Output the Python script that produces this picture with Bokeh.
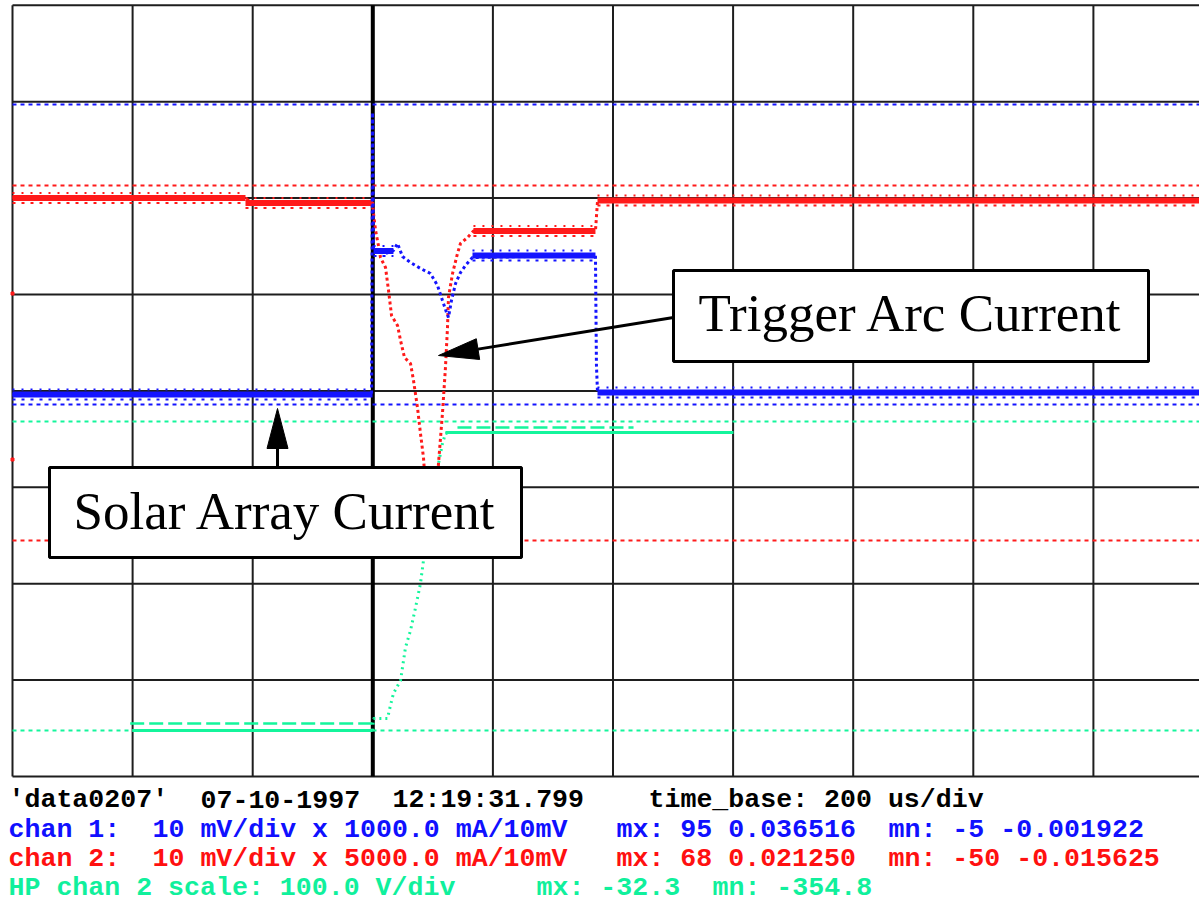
import math
from bokeh.plotting import figure
from bokeh.models import Range1d, ColumnDataSource
from bokeh.embed import file_html
from bokeh.resources import INLINE
from bokeh.core.properties import value

# ---------------- data: x in time divisions (200 us/div), y in screen divisions ----------------
grid_x = [0, 1, 2, 3, 4, 5, 6, 7, 8, 9, 10]
grid_y = [0, 1, 2, 3, 4, 5, 6, 7, 8]
trigger_x = [3]

# mx / mn reference markers (dotted)
blue_marks = [6.971, 3.859]
red_marks = [6.131, 2.448]
green_marks = [3.683, 0.477]

# chan 1 (blue): solar array current
blue_x = [0.0, 2.99, 2.998, 3.006, 3.023, 3.106, 3.172, 3.206, 3.247, 3.314, 3.397, 3.480, 3.539,
          3.580, 3.614, 3.630, 3.655, 3.689, 3.730, 3.772, 3.830, 4.854, 4.862, 4.871, 10.0]
blue_y = [3.963, 3.963, 6.888, 5.456, 5.456, 5.425, 5.456, 5.529, 5.394, 5.332, 5.270, 5.218, 5.093,
          4.938, 4.813, 4.761, 4.938, 5.114, 5.228, 5.301, 5.384, 5.405, 4.274, 3.983, 3.983]
blue_band_x0 = [0.0, 3.006, 3.830, 4.871]
blue_band_x1 = [2.998, 3.172, 4.854, 10.0]
blue_band_y = [3.963, 5.450, 5.405, 3.983]

# chan 2 (red): trigger arc current
red_x = [0.0, 1.94, 1.982, 2.998, 3.006, 3.023, 3.047, 3.064, 3.106, 3.131,
         3.156, 3.206, 3.231, 3.264, 3.314, 3.339, 3.372, 3.397, 3.422, 3.447,
         3.472, 3.505, 3.530, 3.547, 3.580, 3.605, 3.622, 3.630, 3.664, 3.705,
         3.730, 3.789, 3.838, 4.854, 4.871, 10.0]
red_y = [6.006, 5.996, 5.965, 5.955, 5.840, 5.664, 5.508, 5.384, 5.280, 5.041,
         4.782, 4.678, 4.523, 4.346, 4.284, 4.108, 3.828, 3.558, 3.309, 2.863,
         2.448, 2.448, 2.863, 3.247, 3.766, 4.243, 4.658, 4.969, 5.218, 5.425,
         5.529, 5.591, 5.658, 5.658, 5.965, 5.965]
red_band_x0 = [0.0, 1.94, 3.838, 4.871]
red_band_x1 = [1.94, 2.998, 4.854, 10.0]
red_band_y = [6.000, 5.950, 5.658, 5.975]
red_edge_x = [0.0, 0.0]
red_edge_y = [5.010, 3.288]

# HP chan 2 (green): voltage
green_x = [0.999, 2.998, 3.006, 3.122, 3.147, 3.172, 3.231, 3.272, 3.314, 3.356,
           3.397, 3.422, 3.455, 3.497, 3.530, 3.547, 3.580, 3.605, 3.647, 6.003]
green_y = [0.477, 0.477, 0.602, 0.602, 0.737, 0.861, 0.996, 1.338, 1.515, 1.753,
           2.002, 2.241, 2.552, 2.863, 3.174, 3.247, 3.454, 3.558, 3.568, 3.568]
green_band_x0 = [0.999, 3.605]
green_band_x1 = [2.998, 6.003]
green_band_y = [0.477, 3.568]
green_upper_x0 = [0.98, 3.705]
green_upper_x1 = [2.998, 5.171]

# footer text (column, string) on the 16-px character grid
info_lines = [
    ("#000000", [(0, "'data0207'"), (12, "07-10-1997"), (24, "12:19:31.799"), (40, "time_base: 200 us/div")]),
    ("#1010ff", [(0, "chan 1:"), (9, "10 mV/div x 1000.0 mA/10mV"), (38, "mx: 95 0.036516"), (55, "mn: -5 -0.001922")]),
    ("#ff1010", [(0, "chan 2:"), (9, "10 mV/div x 5000.0 mA/10mV"), (38, "mx: 68 0.021250"), (55, "mn: -50 -0.015625")]),
    ("#10f09c", [(0, "HP chan 2 scale: 100.0 V/div"), (33, "mx: -32.3"), (44, "mn: -354.8")]),
]

# ---------------- layout constants ----------------
W, H = 1199, 900
SX = 120.1     # px per time division
SY = 96.4      # px per vertical division

def px2x(px):
    return (px - 12) / SX

def py2y(py):
    return (776 - py) / SY

BLUE = "#1414ff"
RED = "#ff1a1a"
GREEN = "#14f59c"
GRID = "#1e1e1e"

p = figure(width=W, height=H, x_range=Range1d(px2x(0), px2x(W)),
           y_range=Range1d(py2y(H), py2y(0)),
           output_backend="svg", toolbar_location=None, min_border=0,
           x_axis_type=None, y_axis_type=None)
p.outline_line_color = None
p.background_fill_color = "white"
p.border_fill_color = "white"
p.xgrid.visible = False
p.ygrid.visible = False

# graticule
p.segment(x0=grid_x, y0=[0] * len(grid_x), x1=grid_x, y1=[8] * len(grid_x),
          line_color=GRID, line_width=2)
p.segment(x0=[0] * len(grid_y), y0=grid_y, x1=[10] * len(grid_y), y1=grid_y,
          line_color=GRID, line_width=2)
p.segment(x0=trigger_x, y0=[0], x1=trigger_x, y1=[8], line_color="black", line_width=4)

# mx / mn markers
for ys, c in ((blue_marks, BLUE), (red_marks, RED), (green_marks, GREEN)):
    p.segment(x0=[0] * len(ys), y0=ys, x1=[10] * len(ys), y1=ys,
              line_color=c, line_width=2, line_dash="4 4")

FR = 5 / SY   # fringe offset of the noisy bands

def band(x0, x1, y, color, width=6):
    p.segment(x0=x0, y0=y, x1=x1, y1=y, line_color=color, line_width=width)
    p.segment(x0=x0, y0=[v + FR for v in y], x1=x1, y1=[v + FR for v in y],
              line_color=color, line_width=2, line_dash="2 7")
    p.segment(x0=x0, y0=[v - FR for v in y], x1=x1, y1=[v - FR for v in y],
              line_color=color, line_width=2, line_dash="3 6")

# green
p.line(green_x, green_y, line_color=GREEN, line_width=3, line_dash="2 4")
p.segment(x0=green_band_x0, y0=green_band_y, x1=green_band_x1, y1=green_band_y,
          line_color=GREEN, line_width=3)
up = [green_band_y[0] + 7 / SY, green_band_y[1] + 5 / SY]
p.segment(x0=green_upper_x0, y0=up, x1=green_upper_x1, y1=up,
          line_color=GREEN, line_width=2.5, line_dash="14 5")

# red
p.line(red_x, red_y, line_color=RED, line_width=3, line_dash="3 3")
band(red_band_x0, red_band_x1, red_band_y, RED)
p.scatter(red_edge_x, red_edge_y, marker="square", size=3, color=RED)

# blue
p.line(blue_x, blue_y, line_color=BLUE, line_width=3, line_dash="3 3")
band(blue_band_x0, blue_band_x1, blue_band_y, BLUE)

# ---------------- annotations ----------------
def arrow(tail, tip, head_len=40, head_w=21):
    (xs, ys), (xt, yt) = tail, tip
    dx, dy = (xt - xs) * SX, (yt - ys) * SY
    L = math.hypot(dx, dy)
    ux, uy = dx / L, dy / L
    bx, by = xt - ux * head_len / SX, yt - uy * head_len / SY
    px_, py_ = -uy * head_w / 2, ux * head_w / 2
    p.segment(x0=[xs], y0=[ys], x1=[bx], y1=[by], line_color="black", line_width=3)
    p.patch([xt, bx + px_ / SX, bx - px_ / SX], [yt, by + py_ / SY, by - py_ / SY],
            fill_color="black", line_color="black", line_width=1)

SERIF_SHIFT = 18   # renderer places the alphabetic baseline this many px lower
MONO_SHIFT = 7.5

# Trigger Arc Current
arrow((px2x(673), py2y(317)), (px2x(438), py2y(355)))
p.quad(left=[px2x(673)], right=[px2x(1148)], top=[py2y(270)], bottom=[py2y(361)],
       fill_color="white", line_color="black", line_width=3)
p.text(x=[px2x(910.5)], y=[py2y(330 - SERIF_SHIFT)], text=["Trigger Arc Current"],
       text_font=value("Liberation Serif"), text_font_size="53px",
       text_align="center", text_baseline="alphabetic", text_color="black")

# Solar Array Current
arrow((px2x(277), py2y(467)), (px2x(277), py2y(408)))
p.quad(left=[px2x(49)], right=[px2x(521)], top=[py2y(467)], bottom=[py2y(557)],
       fill_color="white", line_color="black", line_width=3)
p.text(x=[px2x(285)], y=[py2y(528 - SERIF_SHIFT)], text=["Solar Array Current"],
       text_font=value("Liberation Serif"), text_font_size="53px",
       text_align="center", text_baseline="alphabetic", text_color="black")

# footer
baselines = [806.5, 836.5, 866, 895]
tx, ty, tt, tc = [], [], [], []
for (color, segs), base in zip(info_lines, baselines):
    for col, s in segs:
        tx.append(px2x(8 + 16 * col))
        ty.append(py2y(base - MONO_SHIFT))
        tt.append(s)
        tc.append(color)
src = ColumnDataSource(dict(x=tx, y=ty, text=tt, color=tc))
p.text(x="x", y="y", text="text", text_color="color", source=src,
       text_font=value("Liberation Mono"), text_font_style="bold",
       text_font_size="26.6px", text_align="left", text_baseline="alphabetic")

open("out.html", "w").write(file_html(p, INLINE))
